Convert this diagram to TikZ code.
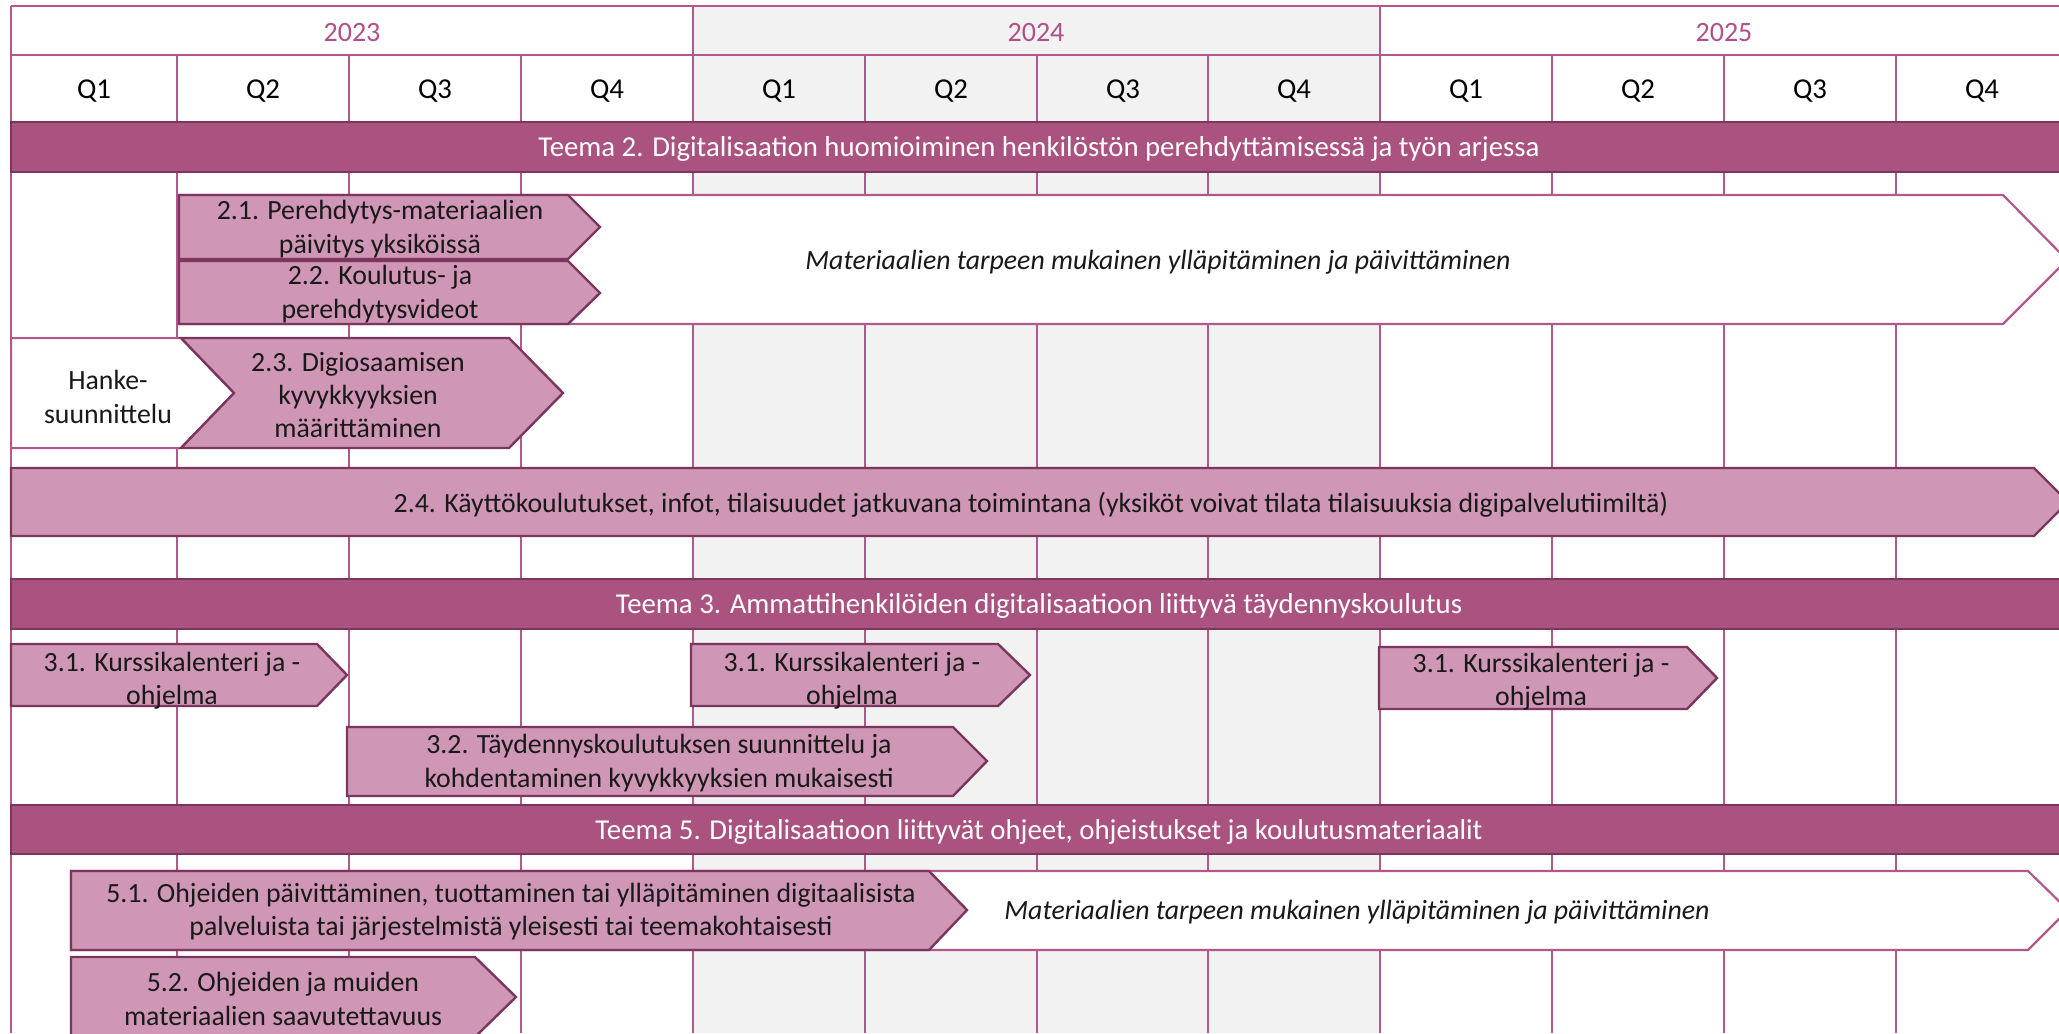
\documentclass[tikz,border=0pt]{standalone}
\usepackage{fontspec}
\setmainfont{Carlito}
\definecolor{gridpink}{RGB}{180,88,140}
\definecolor{yearpink}{RGB}{176,80,136}
\definecolor{themefill}{RGB}{170,82,128}
\definecolor{themeedge}{RGB}{122,54,92}
\definecolor{taskfill}{RGB}{207,150,181}
\definecolor{taskedge}{RGB}{122,54,92}
\definecolor{greyband}{RGB}{242,242,242}
\tikzset{
  gridline/.style={draw=gridpink, line width=1pt},
  themebar/.style={fill=themefill, draw=themeedge, line width=1.2pt},
  task/.style={fill=taskfill, draw=taskedge, line width=1.2pt, line join=miter},
  keep/.style={fill=white, draw=gridpink, line width=1.1pt},
  hanke/.style={fill=white, draw=gridpink, line width=1pt},
  basetext/.style={inner sep=0pt, align=center, font=\fontsize{13.9}{16.7}\selectfont},
  tasktext/.style={basetext, text=black!90},
  themetext/.style={basetext, text=white, font=\fontsize{14.4}{17}\selectfont},
  keeptext/.style={basetext, text=black!90, font=\fontsize{13.9}{16.7}\selectfont\itshape},
  yeartext/.style={basetext, text=yearpink, font=\fontsize{14}{17}\selectfont},
  qtext/.style={basetext, text=black, font=\fontsize{14.4}{17}\selectfont}
}
\begin{document}
\begin{tikzpicture}[x=0.5pt,y=-0.5pt]
    \useasboundingbox (0,0) rectangle (2059,1033);
    \clip (0,0) rectangle (2059,1033);
    \fill[white] (0,0) rectangle (2059,1033);
    \fill[greyband] (693,6) rectangle (1380,1033);
    \draw[gridline] (11,6) -- (2068,6) (11,55) -- (2068,55) (11,122) -- (2068,122);
    \foreach \x in {11,693,1380}
      \draw[gridline] (\x,6) -- (\x,1033);
    \foreach \x in {177,349,521,865,1037,1208,1552,1724,1896}
      \draw[gridline] (\x,55) -- (\x,1033);
    \draw[keep] (179,195) -- (2003,195) -- (2067,260) -- (2003,324) -- (179,324) -- cycle;
    \draw[keep] (71,871) -- (2028,871) -- (2068,910) -- (2028,950) -- (71,950) -- cycle;
    \draw[hanke] (11,338) -- (181,338) -- (234,393) -- (181,448) -- (11,448) -- cycle;
    \draw[task] (181,338) -- (509,338) -- (563,393) -- (509,448) -- (181,448) -- (234,393) -- cycle;
    \draw[task] (179,195) -- (568,195) -- (600,227) -- (568,259) -- (179,259) -- cycle;
    \draw[task] (179,261) -- (568,261) -- (600,293) -- (568,324) -- (179,324) -- cycle;
    \draw[task] (11,468) -- (2034,468) -- (2068,502) -- (2034,536) -- (11,536) -- cycle;
    \draw[task] (11,644) -- (317,644) -- (347,675) -- (317,706) -- (11,706) -- cycle;
    \draw[task] (691,644) -- (998,644) -- (1030,675) -- (998,706) -- (691,706) -- cycle;
    \draw[task] (1379,647) -- (1687,647) -- (1717,678) -- (1687,709) -- (1379,709) -- cycle;
    \draw[task] (347,727) -- (953,727) -- (987,761) -- (953,796) -- (347,796) -- cycle;
    \draw[task] (71,871) -- (929,871) -- (967,910) -- (929,950) -- (71,950) -- cycle;
    \draw[task] (71,957) -- (475,957) -- (516,997) -- (475,1037) -- (71,1037) -- cycle;
    \draw[themebar] (11,122) rectangle (2068,172);
    \draw[themebar] (11,579) rectangle (2068,629);
    \draw[themebar] (11,805) rectangle (2068,854);
    \node[yeartext] (y2023) at (352,33) {2023};
    \node[yeartext] (y2024) at (1036,33) {2024};
    \node[yeartext] (y2025) at (1724,33) {2025};
    \foreach \xc/\q [count=\i] in {94/1,263/2,435/3,607/4,779/1,951/2,1123/3,1294/4,1466/1,1638/2,1810/3,1982/4}
      \node[qtext] (q\i) at (\xc,91) {Q\q};
    \node[themetext] (teema2) at (1039,149) {Teema 2. Digitalisaation huomioiminen henkilöstön perehdyttämisessä ja työn arjessa};
    \node[themetext] (teema3) at (1039,606) {Teema 3. Ammattihenkilöiden digitalisaatioon liittyvä täydennyskoulutus};
    \node[themetext] (teema5) at (1039,832) {Teema 5. Digitalisaatioon liittyvät ohjeet, ohjeistukset ja koulutusmateriaalit};
    \node[tasktext] (t21) at (380,229) {2.1. Perehdytys-materiaalien\\päivitys yksiköissä};
    \node[tasktext] (t22) at (380,294) {2.2. Koulutus- ja\\perehdytysvideot};
    \node[keeptext] (keep2) at (1158,262) {Materiaalien tarpeen mukainen ylläpitäminen ja päivittäminen};
    \node[tasktext] (hanke) at (108,397) {Hanke-\\suunnittelu};
    \node[tasktext] (t23) at (358,395) {2.3. Digiosaamisen\\kyvykkyyksien\\määrittäminen};
    \node[tasktext] (t24) at (1031,505) {2.4. Käyttökoulutukset, infot, tilaisuudet jatkuvana toimintana (yksiköt voivat tilata tilaisuuksia digipalvelutiimiltä)};
    \node[tasktext] (t31a) at (172,681) {3.1. Kurssikalenteri ja -\\ohjelma};
    \node[tasktext] (t31b) at (852,681) {3.1. Kurssikalenteri ja -\\ohjelma};
    \node[tasktext] (t31c) at (1541,682) {3.1. Kurssikalenteri ja -\\ohjelma};
    \node[tasktext] (t32) at (659,763) {3.2. Täydennyskoulutuksen suunnittelu ja\\kohdentaminen kyvykkyyksien mukaisesti};
    \node[tasktext] (t51) at (511,912) {5.1. Ohjeiden päivittäminen, tuottaminen tai ylläpitäminen digitaalisista\\palveluista tai järjestelmistä yleisesti tai teemakohtaisesti};
    \node[keeptext] (keep5) at (1357,912) {Materiaalien tarpeen mukainen ylläpitäminen ja päivittäminen};
    \node[tasktext] (t52) at (283,999) {5.2. Ohjeiden ja muiden\\materiaalien saavutettavuus};
\end{tikzpicture}
\end{document}
